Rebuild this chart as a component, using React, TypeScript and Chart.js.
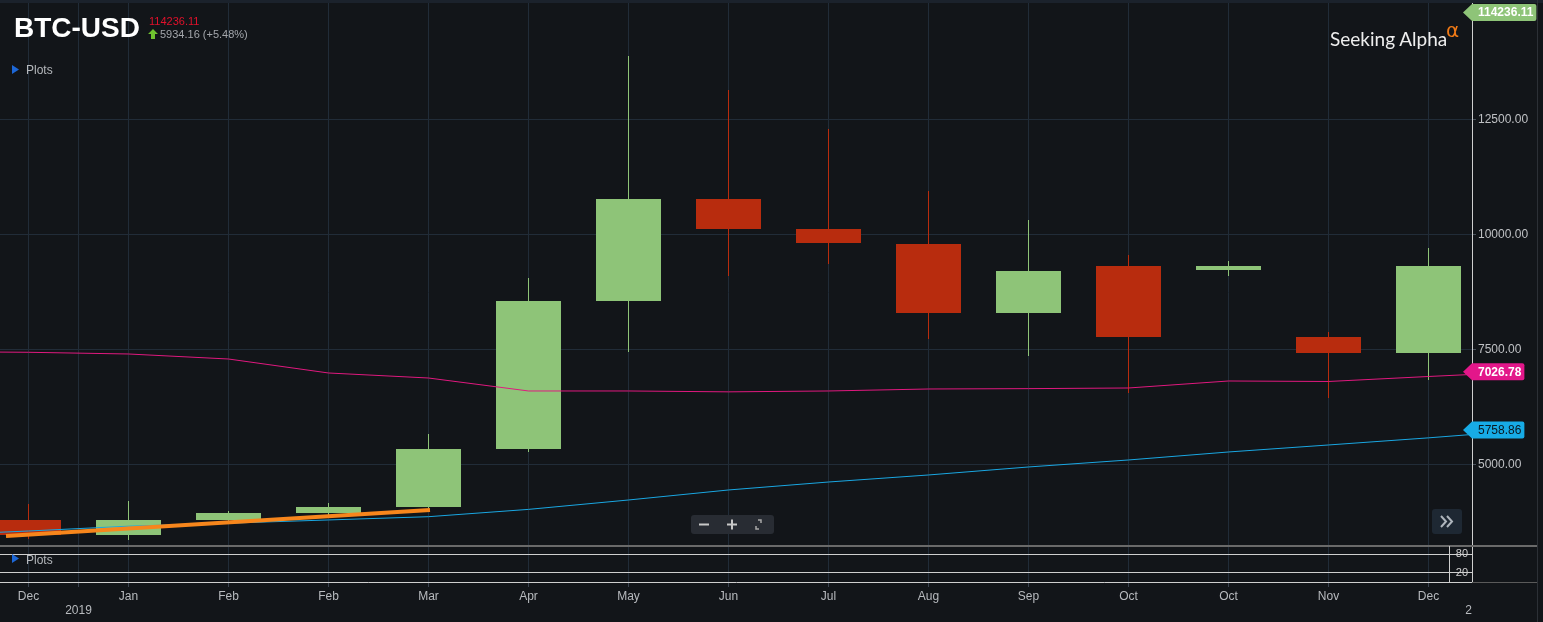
import React, { useEffect, useRef } from 'react';
import { Chart, registerables } from 'chart.js';

Chart.register(...registerables);

const FONT = '"Liberation Sans", Arial, sans-serif';

// ---- data ----
const categories = ['Dec', 'Jan', 'Feb', 'Feb', 'Mar', 'Apr', 'May', 'Jun', 'Jul', 'Aug', 'Sep', 'Oct', 'Oct', 'Nov', 'Dec'];
const opens = [3804, 3478, 3804, 3957, 4087, 5348, 8565, 10783, 10130, 9804, 8304, 9326, 9239, 7783, 7435];
const closes = [3478, 3804, 3957, 4087, 5348, 8565, 10783, 10130, 9826, 8304, 9217, 7783, 9326, 7435, 9326];
const highs = [4152, 4217, 4000, 4174, 5674, 9065, 13891, 13152, 12304, 10957, 10326, 9565, 9435, 7891, 9717];
const lows = [3391, 3370, 3790, 3850, 4060, 5283, 7457, 9109, 9370, 7739, 7370, 6565, 9109, 6457, 6848];

// moving averages, one value per period starting one period before the first candle
const maStartIndex = -1;
const maFastValues = [7465, 7450, 7413, 7304, 7000, 6891, 6609, 6609, 6590, 6609, 6652, 6660, 6674, 6826, 6815, 6924, 7027];
const maSlowValues = [3470, 3565, 3670, 3735, 3805, 3876, 4035, 4239, 4457, 4630, 4783, 4957, 5109, 5283, 5435, 5590, 5759];

// drawn trend line
const trendIndex = [-0.225, 4.015];
const trendValues = [3457, 4022];

const yTicks = [5000, 7500, 10000, 12500];
const lowerTicks = [20, 80];
const yearMarks = [0.5, 14.4];
const yearLabels = ['2019', '2'];

const symbol = 'BTC-USD';
const lastPrice = '114236.11';
const changeText = '5934.16 (+5.48%)';
const priceTagValues = [114236.11, 7026.78, 5758.86];
const priceTagColors = ['#8ec478', '#e3178a', '#17abe6'];
const priceTagText = ['#ffffff', '#ffffff', '#0b1820'];

// view window
const X_MIN = -0.285;
const X_MAX = 14.435;
const Y_MIN = 3239;
const Y_MAX = 15043;
const LOW_MIN = -8.5;
const LOW_MAX = 105.3;

const GREEN = '#8ec478';
const RED = '#b82c0e';
const GRID = '#212c38';
const LIGHT = '#cfcfcf';

const xTicks = [...categories.map((_, i) => i), ...yearMarks].sort((a, b) => a - b);

function xLabel(v: number): string | string[] {
  const yi = yearMarks.findIndex((m) => Math.abs(m - v) < 1e-6);
  if (yi >= 0) return ['', yearLabels[yi]];
  const ci = Math.round(v);
  if (Math.abs(ci - v) < 1e-6 && categories[ci]) return categories[ci];
  return '';
}

function isHiddenTick(v: number) {
  return Math.abs(v - yearMarks[1]) < 1e-6;
}

function noPad(s: any) {
  s.paddingTop = 0;
  s.paddingBottom = 0;
  s.paddingLeft = 0;
  s.paddingRight = 0;
}

const overlayPlugin = {
  id: 'overlay',
  afterDraw(chart: any) {
    const { ctx, chartArea, scales } = chart;
    const y = scales.y;
    const y2 = scales.y2;
    const W = chart.width;
    ctx.save();
    // pane separator
    ctx.fillStyle = '#6a6a6a';
    ctx.fillRect(0, Math.round(y2.top) - 1, W - 6, 2);
    // lower pane label box edge
    ctx.fillStyle = LIGHT;
    ctx.fillRect(chartArea.right - 23, y2.top, 1, y2.bottom - y2.top);
    // right edge line
    ctx.fillStyle = '#2c3036';
    ctx.fillRect(W - 6, 0, 1, chart.height);
    // bottom right line
    ctx.fillStyle = '#5a5a5a';
    ctx.fillRect(chartArea.right, Math.round(y2.bottom), W - 6 - chartArea.right, 1);

    // price tags
    priceTagValues.forEach((val, i) => {
      let cy = y.getPixelForValue(val);
      cy = Math.max(y.top + 9.5, Math.min(y.bottom - 9, cy));
      const text = val.toFixed(2);
      ctx.font = `${i < 2 ? 'bold ' : ''}12px ${FONT}`;
      const tw = ctx.measureText(text).width;
      const x0 = chartArea.right;
      const tx = x0 + 6;
      const x1 = tx + tw + 3;
      const h = 8.5;
      ctx.beginPath();
      ctx.moveTo(x0 - 9, cy);
      ctx.lineTo(x0, cy - h);
      ctx.lineTo(x1 - 2, cy - h);
      ctx.quadraticCurveTo(x1, cy - h, x1, cy - h + 2);
      ctx.lineTo(x1, cy + h - 2);
      ctx.quadraticCurveTo(x1, cy + h, x1 - 2, cy + h);
      ctx.lineTo(x0, cy + h);
      ctx.closePath();
      ctx.fillStyle = priceTagColors[i];
      ctx.fill();
      ctx.fillStyle = priceTagText[i];
      ctx.textBaseline = 'middle';
      ctx.textAlign = 'left';
      ctx.fillText(text, tx, cy + 0.5);
    });
    ctx.restore();
  },
};

export default function App() {
  const canvasRef = useRef<HTMLCanvasElement | null>(null);

  useEffect(() => {
    const canvas = canvasRef.current;
    if (!canvas) return;
    const candleColors = opens.map((o, i) => (closes[i] >= o ? GREEN : RED));

    const chart = new Chart(canvas, {
      type: 'bar',
      data: {
        datasets: [
          {
            type: 'line',
            label: 'Trend',
            data: trendIndex.map((x, i) => ({ x, y: trendValues[i] })),
            borderColor: '#f7861c',
            borderWidth: 4,
            pointRadius: 0,
            tension: 0,
            order: 0,
            xAxisID: 'x',
            yAxisID: 'y',
          } as any,
          {
            type: 'line',
            label: 'MA fast',
            data: maFastValues.map((v, i) => ({ x: i + maStartIndex, y: v })),
            borderColor: '#e0197f',
            borderWidth: 1,
            pointRadius: 0,
            tension: 0,
            order: 1,
            xAxisID: 'x',
            yAxisID: 'y',
          } as any,
          {
            type: 'line',
            label: 'MA slow',
            data: maSlowValues.map((v, i) => ({ x: i + maStartIndex, y: v })),
            borderColor: '#1aa7e2',
            borderWidth: 1,
            pointRadius: 0,
            tension: 0,
            order: 2,
            xAxisID: 'x',
            yAxisID: 'y',
          } as any,
          {
            type: 'bar',
            label: 'Body',
            data: categories.map((_, i) => ({ x: i, y: [opens[i], closes[i]] })),
            backgroundColor: candleColors,
            barThickness: 65,
            grouped: false,
            inflateAmount: 0,
            order: 3,
            xAxisID: 'x',
            yAxisID: 'y',
          } as any,
          {
            type: 'bar',
            label: 'Wick',
            data: categories.map((_, i) => ({ x: i, y: [lows[i], highs[i]] })),
            backgroundColor: candleColors,
            barThickness: 1,
            grouped: false,
            inflateAmount: 0,
            order: 4,
            xAxisID: 'x',
            yAxisID: 'y',
          } as any,
        ],
      },
      options: {
        responsive: false,
        animation: false,
        events: [],
        layout: { padding: { top: 3, left: 0, right: 0, bottom: 0 } },
        plugins: {
          legend: { display: false },
          tooltip: { enabled: false },
        },
        scales: {
          x: {
            type: 'linear',
            position: 'bottom',
            min: X_MIN,
            max: X_MAX,
            offset: false,
            afterBuildTicks: (s: any) => {
              s.ticks = xTicks.map((v) => ({ value: v }));
            },
            afterFit: (s: any) => {
              s.height = 40;
              noPad(s);
            },
            ticks: {
              autoSkip: false,
              maxRotation: 0,
              minRotation: 0,
              padding: 2,
              color: '#b7babe',
              font: { size: 12, family: FONT },
              callback: (v: any) => xLabel(Number(v)),
            },
            grid: {
              offset: false,
              color: (c: any) => (c.tick && isHiddenTick(c.tick.value) ? 'rgba(0,0,0,0)' : GRID),
              tickColor: (c: any) => (c.tick && isHiddenTick(c.tick.value) ? 'rgba(0,0,0,0)' : '#3b4450'),
              tickLength: 5,
            },
            border: { display: true, color: LIGHT },
          } as any,
          y: {
            type: 'linear',
            position: 'right',
            stack: 'panes',
            stackWeight: 543,
            min: Y_MIN,
            max: Y_MAX,
            afterBuildTicks: (s: any) => {
              s.ticks = yTicks.map((v) => ({ value: v }));
            },
            afterFit: (s: any) => {
              s.width = 71;
              noPad(s);
            },
            ticks: {
              padding: 2,
              color: '#bfc1c4',
              font: { size: 12, family: FONT },
              callback: (v: any) => Number(v).toFixed(2),
            },
            grid: { color: GRID, tickColor: '#4a525c', tickLength: 4 },
            border: { display: true, color: LIGHT },
          } as any,
          y2: {
            type: 'linear',
            position: 'right',
            stack: 'panes',
            stackWeight: 36,
            min: LOW_MIN,
            max: LOW_MAX,
            afterBuildTicks: (s: any) => {
              s.ticks = lowerTicks.map((v) => ({ value: v }));
            },
            afterFit: (s: any) => {
              noPad(s);
            },
            ticks: {
              mirror: true,
              padding: -4,
              color: '#d0d0d0',
              font: { size: 11, family: FONT },
            },
            grid: { color: LIGHT, drawTicks: false },
            border: { display: true, color: LIGHT },
          } as any,
        },
      },
      plugins: [overlayPlugin],
    } as any);

    return () => chart.destroy();
  }, []);

  const textBase: React.CSSProperties = {
    position: 'absolute',
    lineHeight: 1,
    whiteSpace: 'nowrap',
    fontFamily: FONT,
    pointerEvents: 'none',
  };

  return (
    <div
      style={{
        position: 'fixed',
        left: 0,
        top: 0,
        width: 1543,
        height: 622,
        background: '#121519',
        overflow: 'hidden',
      }}
    >
      <div style={{ position: 'absolute', left: 0, top: 0, width: 1543, height: 3, background: '#1b222c' }} />
      <canvas ref={canvasRef} width={1543} height={622} style={{ position: 'absolute', left: 0, top: 0, width: 1543, height: 622 }} />

      <div style={{ ...textBase, left: 14, top: 14, fontSize: 28, fontWeight: 'bold', color: '#ffffff' }}>{symbol}</div>
      <div style={{ ...textBase, left: 149, top: 16, fontSize: 11, color: '#e0112b' }}>{lastPrice}</div>
      <svg style={{ position: 'absolute', left: 148, top: 29 }} width={10} height={10} viewBox="0 0 10 10">
        <polygon points="5,0 10,5 7,5 7,10 3,10 3,5 0,5" fill="#6fc22f" />
      </svg>
      <div style={{ ...textBase, left: 160, top: 29, fontSize: 11, color: '#a3a6ab' }}>{changeText}</div>

      <svg style={{ position: 'absolute', left: 12, top: 65 }} width={8} height={9} viewBox="0 0 8 9">
        <polygon points="0,0 7,4.5 0,9" fill="#1d67d6" />
      </svg>
      <div style={{ ...textBase, left: 26, top: 64, fontSize: 12, color: '#b5b8bc' }}>Plots</div>

      <svg style={{ position: 'absolute', left: 12, top: 554 }} width={8} height={9} viewBox="0 0 8 9">
        <polygon points="0,0 7,4.5 0,9" fill="#1d67d6" />
      </svg>
      <div style={{ ...textBase, left: 26, top: 554, fontSize: 12, color: '#b5b8bc' }}>Plots</div>

      <div style={{ ...textBase, left: 1330, top: 29, fontSize: 19, fontFamily: 'Lato, "Open Sans", sans-serif', color: '#eeeeee' }}>
        Seeking Alpha
      </div>
      <div style={{ ...textBase, left: 1446, top: 20, fontSize: 20, fontFamily: '"DejaVu Sans", sans-serif', color: '#f07a16' }}>α</div>

      {/* zoom controls */}
      <div
        style={{
          position: 'absolute',
          left: 691,
          top: 515,
          width: 83,
          height: 19,
          background: '#282c33',
          borderRadius: 3,
        }}
      >
        <svg width={83} height={19} viewBox="0 0 83 19" style={{ position: 'absolute', left: 0, top: 0 }}>
          <rect x={8} y={8.5} width={10} height={2} fill="#c8c8c8" />
          <rect x={36} y={8.5} width={10} height={2} fill="#c8c8c8" />
          <rect x={40} y={4.5} width={2} height={10} fill="#c8c8c8" />
          <polyline points="67,5 70,5 70,8" stroke="#a8a8a8" strokeWidth={1.5} fill="none" />
          <polyline points="65,11 65,14 68,14" stroke="#a8a8a8" strokeWidth={1.5} fill="none" />
        </svg>
      </div>

      {/* scroll to end button */}
      <div
        style={{
          position: 'absolute',
          left: 1432,
          top: 509,
          width: 30,
          height: 25,
          background: '#1e2833',
          borderRadius: 3,
        }}
      >
        <svg width={30} height={25} viewBox="0 0 30 25" style={{ position: 'absolute', left: 0, top: 0 }}>
          <polyline points="9,7 14,12.5 9,18" stroke="#aeb5bc" strokeWidth={2} fill="none" />
          <polyline points="15,7 20,12.5 15,18" stroke="#aeb5bc" strokeWidth={2} fill="none" />
        </svg>
      </div>
    </div>
  );
}
